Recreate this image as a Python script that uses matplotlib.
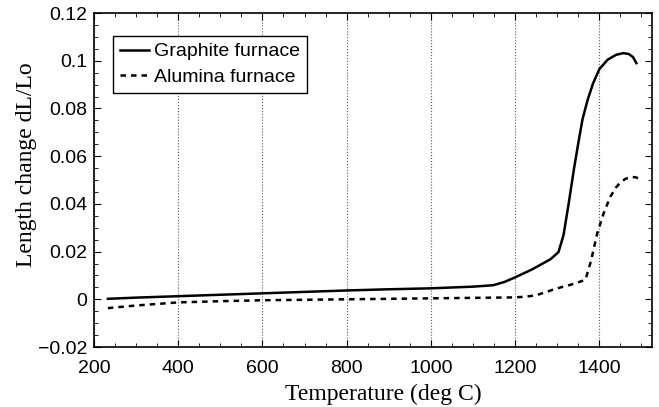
import matplotlib
matplotlib.use('Agg')
import matplotlib.pyplot as plt
from matplotlib.ticker import MultipleLocator
import numpy as np

# graphite furnace (solid)
t_graphite = [233, 300, 400, 500, 600, 700, 800, 900, 1000, 1100, 1148, 1175, 1200, 1240, 1284,
              1303, 1315, 1327, 1340, 1350, 1360, 1372, 1385, 1400, 1420, 1440, 1457, 1470, 1480, 1488]
dl_graphite = [0.0002, 0.0007, 0.0013, 0.0019, 0.0025, 0.0031, 0.0037, 0.0042, 0.0046, 0.0053, 0.0059, 0.0073, 0.0092, 0.0125, 0.0168,
               0.0198, 0.027, 0.040, 0.055, 0.0655, 0.0755, 0.0835, 0.0905, 0.0965, 0.1005, 0.1025, 0.1032, 0.1028, 0.1015, 0.099]

# alumina furnace (dashed)
t_alumina = [233, 300, 400, 500, 600, 700, 800, 900, 1000, 1100, 1200, 1225, 1250, 1300, 1340, 1367,
             1380, 1395, 1410, 1426, 1440, 1450, 1462, 1474, 1485, 1493]
dl_alumina = [-0.0037, -0.0026, -0.0013, -0.0008, -0.0004, -0.0002, 0.0, 0.0002, 0.0004, 0.0006, 0.0008, 0.0011, 0.0017, 0.0046, 0.0065, 0.0082,
              0.016, 0.0277, 0.036, 0.043, 0.047, 0.049, 0.0505, 0.0512, 0.0512, 0.0507]

yticks = [-0.02, 0, 0.02, 0.04, 0.06, 0.08, 0.1, 0.12]
ytick_labels = ['\u22120.02', '0', '0.02', '0.04', '0.06', '0.08', '0.1', '0.12']

fig = plt.figure(figsize=(6.59, 4.07), dpi=100)
ax = fig.add_axes([0.1426, 0.1474, 0.8468, 0.8206])

ax.plot(t_graphite, dl_graphite, 'k-', lw=1.8, label='Graphite furnace')
ax.plot(t_alumina, dl_alumina, 'k--', lw=1.8, dashes=(2.2, 2), label='Alumina furnace')

ax.set_xlim(200, 1525)
ax.set_ylim(-0.02, 0.12)
ax.xaxis.set_major_locator(MultipleLocator(200))
ax.xaxis.set_minor_locator(MultipleLocator(50))
ax.yaxis.set_minor_locator(MultipleLocator(0.005))
ax.set_yticks(yticks)
ax.set_yticklabels(ytick_labels)
ax.tick_params(which='both', direction='in', top=True, right=True, labelsize=14)
ax.tick_params(which='major', length=5)
ax.tick_params(which='minor', length=3)
ax.tick_params(axis='y', pad=5)
ax.tick_params(axis='x', pad=9)
for lab in ax.get_xticklabels() + ax.get_yticklabels():
    lab.set_family('Liberation Sans')
ax.xaxis.grid(True, which='major', linestyle=':', color='0.35', lw=0.8)
for s in ax.spines.values():
    s.set_linewidth(1.2)

ax.set_xlabel('Temperature (deg C)', family='Liberation Serif', fontsize=17)
ax.set_ylabel('Length change dL/Lo', family='Liberation Serif', fontsize=17)
ax.xaxis.set_label_coords(0.518, -0.11)
ax.yaxis.set_label_coords(-0.102, 0.545)

leg = ax.legend(loc='upper left', bbox_to_anchor=(0.034, 0.931), fancybox=False, framealpha=1,
                edgecolor='k', handlelength=1.5, handletextpad=0.25, borderpad=0.35,
                labelspacing=0.4, borderaxespad=0,
                prop={'family': 'Liberation Sans', 'size': 14})
leg.get_frame().set_linewidth(1.0)

fig.savefig('out.png', dpi=100)
